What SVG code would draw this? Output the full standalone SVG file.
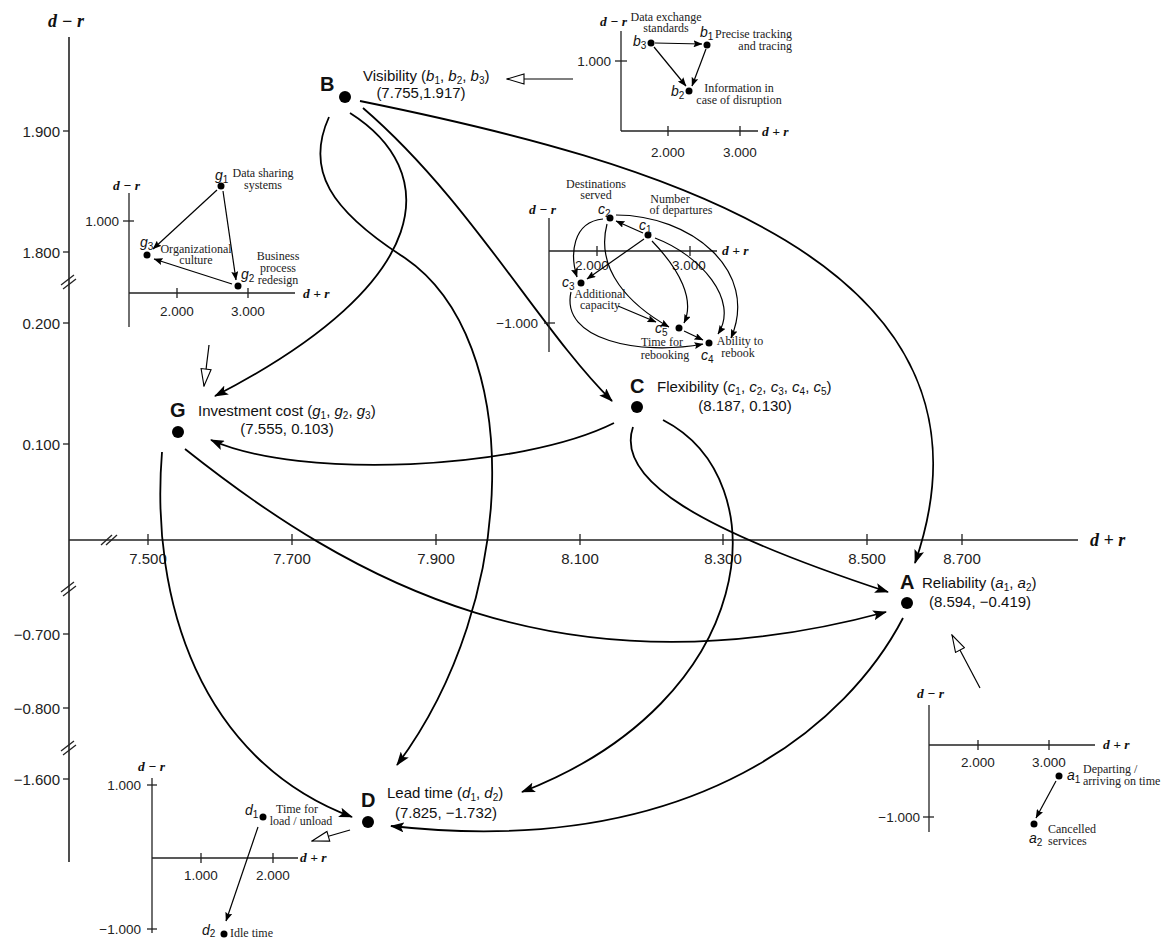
<svg xmlns="http://www.w3.org/2000/svg" width="1164" height="939" viewBox="0 0 1164 939">
<style>
.ax{stroke:#222;stroke-width:1.6;fill:none}
.axt{stroke:#222;stroke-width:1.3;fill:none}
.tk{font-family:"Liberation Sans",Arial,sans-serif;font-size:15px;fill:#222}
.tks{font-family:"Liberation Sans",Arial,sans-serif;font-size:13.5px;fill:#222}
.al{font-family:"Liberation Serif","Times New Roman",serif;font-style:italic;font-weight:bold;font-size:18px;fill:#111}
.als{font-family:"Liberation Serif","Times New Roman",serif;font-style:italic;font-weight:bold;font-size:13.5px;fill:#111}
.nl{font-family:"Liberation Sans",Arial,sans-serif;font-size:15px;fill:#111}
.nb{font-family:"Liberation Sans",Arial,sans-serif;font-size:20px;font-weight:bold;fill:#111}
.pl{font-family:"Liberation Sans",Arial,sans-serif;font-size:14px;font-style:italic;fill:#111}
.sub{font-size:10px;font-style:normal}
.sl{font-family:"Liberation Serif","Times New Roman",serif;font-size:12px;fill:#222}
.c{stroke:#000;stroke-width:1.8;fill:none;marker-end:url(#ah)}
.ci{stroke:#000;stroke-width:1.2;fill:none;marker-end:url(#as)}
.co{stroke:#000;stroke-width:1.2;fill:none;marker-end:url(#ao)}
.brk{stroke:#222;stroke-width:1.3}
</style>
<defs>
<marker id="ah" markerWidth="14" markerHeight="10" refX="13" refY="5" orient="auto" markerUnits="userSpaceOnUse"><path d="M0,0 L14,5 L0,10 L3,5 z" fill="#000"/></marker>
<marker id="as" markerWidth="9" markerHeight="7" refX="8.5" refY="3.5" orient="auto" markerUnits="userSpaceOnUse"><path d="M0,0 L9,3.5 L0,7 L1.5,3.5 z" fill="#000"/></marker>
<marker id="ao" markerWidth="19" markerHeight="12" refX="18" refY="6" orient="auto" markerUnits="userSpaceOnUse"><path d="M1,1 L18,6 L1,11 z" fill="#fff" stroke="#000" stroke-width="1.1"/></marker>
</defs>

<g id="main-axes">
<line class="ax" x1="69" y1="37" x2="69" y2="862"/>
<line class="ax" x1="69" y1="540" x2="1078" y2="540"/>
<text class="al" x="48" y="27">d − r</text>
<text class="al" x="1090" y="546">d + r</text>
<g class="axt">
<line x1="63" y1="131" x2="69" y2="131"/><line x1="63" y1="252" x2="69" y2="252"/><line x1="63" y1="323" x2="69" y2="323"/><line x1="63" y1="444" x2="69" y2="444"/><line x1="63" y1="634" x2="69" y2="634"/><line x1="63" y1="708" x2="69" y2="708"/><line x1="63" y1="779" x2="69" y2="779"/>
<line x1="148" y1="534" x2="148" y2="545"/><line x1="292" y1="534" x2="292" y2="545"/><line x1="436" y1="534" x2="436" y2="545"/><line x1="580" y1="534" x2="580" y2="545"/><line x1="723" y1="534" x2="723" y2="545"/><line x1="867" y1="534" x2="867" y2="545"/><line x1="962" y1="534" x2="962" y2="545"/>
</g>
<g class="brk">
<line x1="61" y1="285" x2="74" y2="275"/><line x1="63" y1="289" x2="76" y2="279"/>
<line x1="61" y1="592" x2="74" y2="582"/><line x1="63" y1="596" x2="76" y2="586"/>
<line x1="61" y1="751" x2="74" y2="741"/><line x1="63" y1="755" x2="76" y2="745"/>
<line x1="101" y1="545" x2="112" y2="535"/><line x1="106" y1="545" x2="117" y2="535"/>
</g>
<g class="tk" text-anchor="end">
<text x="60" y="137">1.900</text><text x="60" y="258">1.800</text><text x="60" y="329">0.200</text><text x="60" y="450">0.100</text><text x="60" y="640">−0.700</text><text x="60" y="714">−0.800</text><text x="60" y="785">−1.600</text>
</g>
<g class="tk" text-anchor="middle">
<text x="148" y="564">7.500</text><text x="292" y="564">7.700</text><text x="436" y="564">7.900</text><text x="580" y="564">8.100</text><text x="723" y="564">8.300</text><text x="867" y="564">8.500</text><text x="962" y="564">8.700</text>
</g>
</g>

<g id="connectors">
<path class="c" d="M360,101 C650,160 1020,260 915,563"/>
<path class="c" d="M363,108 C470,200 540,330 612,401"/>
<path class="c" d="M329,117 C305,170 330,210 405,258 C525,340 520,600 397,765"/>
<path class="c" d="M350,113 C440,170 440,280 215,396"/>
<path class="c" d="M614,423 C520,470 300,480 211,440"/>
<path class="c" d="M633,427 C615,480 700,530 888,592"/>
<path class="c" d="M663,420 C780,480 760,700 522,792"/>
<path class="c" d="M185,449 C350,580 560,700 886,612"/>
<path class="c" d="M162,452 C150,600 200,760 352,817"/>
<path class="c" d="M903,618 C850,720 700,860 391,826"/>
<path class="co" d="M573,79 L507,79"/>
<path class="co" d="M209,345 L204,386"/>
<path class="co" d="M980,688 L952,635"/>
<path class="co" d="M350,830 L312,841"/>
</g>

<g id="node-B">
<circle cx="345" cy="97" r="6" fill="#000"/>
<text class="nb" x="320" y="91">B</text>
<text class="nl" x="363" y="81">Visibility (<tspan font-style="italic">b</tspan><tspan font-size="10" dy="3">1</tspan><tspan dy="-3">, </tspan><tspan font-style="italic">b</tspan><tspan font-size="10" dy="3">2</tspan><tspan dy="-3">, </tspan><tspan font-style="italic">b</tspan><tspan font-size="10" dy="3">3</tspan><tspan dy="-3">)</tspan></text>
<text class="nl" x="421" y="98" text-anchor="middle">(7.755,1.917)</text>
</g>

<g id="node-G">
<circle cx="178" cy="432" r="6" fill="#000"/>
<text class="nb" x="170" y="417">G</text>
<text class="nl" x="198" y="416">Investment cost (<tspan font-style="italic">g</tspan><tspan font-size="10" dy="3">1</tspan><tspan dy="-3">, </tspan><tspan font-style="italic">g</tspan><tspan font-size="10" dy="3">2</tspan><tspan dy="-3">, </tspan><tspan font-style="italic">g</tspan><tspan font-size="10" dy="3">3</tspan><tspan dy="-3">)</tspan></text>
<text class="nl" x="287" y="434" text-anchor="middle">(7.555, 0.103)</text>
</g>

<g id="node-C">
<circle cx="637" cy="407" r="6" fill="#000"/>
<text class="nb" x="630" y="393">C</text>
<text class="nl" x="657" y="392">Flexibility (<tspan font-style="italic">c</tspan><tspan font-size="10" dy="3">1</tspan><tspan dy="-3">, </tspan><tspan font-style="italic">c</tspan><tspan font-size="10" dy="3">2</tspan><tspan dy="-3">, </tspan><tspan font-style="italic">c</tspan><tspan font-size="10" dy="3">3</tspan><tspan dy="-3">, </tspan><tspan font-style="italic">c</tspan><tspan font-size="10" dy="3">4</tspan><tspan dy="-3">, </tspan><tspan font-style="italic">c</tspan><tspan font-size="10" dy="3">5</tspan><tspan dy="-3">)</tspan></text>
<text class="nl" x="745" y="411" text-anchor="middle">(8.187, 0.130)</text>
</g>

<g id="node-A">
<circle cx="907" cy="603" r="6" fill="#000"/>
<text class="nb" x="900" y="589">A</text>
<text class="nl" x="922" y="588">Reliability (<tspan font-style="italic">a</tspan><tspan font-size="10" dy="3">1</tspan><tspan dy="-3">, </tspan><tspan font-style="italic">a</tspan><tspan font-size="10" dy="3">2</tspan><tspan dy="-3">)</tspan></text>
<text class="nl" x="980" y="607" text-anchor="middle">(8.594, −0.419)</text>
</g>

<g id="node-D">
<circle cx="368" cy="822" r="6" fill="#000"/>
<text class="nb" x="361" y="807">D</text>
<text class="nl" x="387" y="798">Lead time (<tspan font-style="italic">d</tspan><tspan font-size="10" dy="3">1</tspan><tspan dy="-3">, </tspan><tspan font-style="italic">d</tspan><tspan font-size="10" dy="3">2</tspan><tspan dy="-3">)</tspan></text>
<text class="nl" x="446" y="818" text-anchor="middle">(7.825, −1.732)</text>
</g>

<g id="inset-B">
<line class="axt" x1="621" y1="31" x2="621" y2="131"/>
<line class="axt" x1="621" y1="131" x2="758" y2="131"/>
<line class="axt" x1="615" y1="61" x2="627" y2="61"/>
<line class="axt" x1="668" y1="126" x2="668" y2="136"/>
<line class="axt" x1="740" y1="126" x2="740" y2="136"/>
<text class="als" x="600" y="26">d − r</text>
<text class="als" x="762" y="136">d + r</text>
<text class="tks" x="611" y="66" text-anchor="end">1.000</text>
<text class="tks" x="668" y="157" text-anchor="middle">2.000</text>
<text class="tks" x="740" y="157" text-anchor="middle">3.000</text>
<circle cx="651" cy="43" r="3.5"/><circle cx="707" cy="45" r="3.5"/><circle cx="689" cy="91" r="3.5"/>
<path class="ci" d="M655,43 L702,44"/>
<path class="ci" d="M706,49 L692,86"/>
<path class="ci" d="M654,47 L686,86"/>
<text class="pl" x="633" y="46">b<tspan class="sub" dy="3">3</tspan></text>
<text class="pl" x="700" y="37">b<tspan class="sub" dy="3">1</tspan></text>
<text class="pl" x="671" y="96">b<tspan class="sub" dy="3">2</tspan></text>
<text class="sl" x="666" y="21" text-anchor="middle" font-size="11">Data exchange</text>
<text class="sl" x="666" y="32" text-anchor="middle" font-size="11">standards</text>
<text class="sl" x="792" y="38" text-anchor="end">Precise tracking</text>
<text class="sl" x="792" y="50" text-anchor="end">and tracing</text>
<text class="sl" x="739" y="92" text-anchor="middle">Information in</text>
<text class="sl" x="739" y="104" text-anchor="middle">case of disruption</text>
</g>

<g id="inset-G">
<line class="axt" x1="129" y1="193" x2="129" y2="327"/>
<line class="axt" x1="129" y1="293" x2="295" y2="293"/>
<line class="axt" x1="123" y1="221" x2="134" y2="221"/>
<line class="axt" x1="177" y1="288" x2="177" y2="298"/>
<line class="axt" x1="248" y1="288" x2="248" y2="298"/>
<text class="als" x="113" y="190">d − r</text>
<text class="als" x="303" y="298">d + r</text>
<text class="tks" x="119" y="226" text-anchor="end">1.000</text>
<text class="tks" x="177" y="316" text-anchor="middle">2.000</text>
<text class="tks" x="248" y="316" text-anchor="middle">3.000</text>
<circle cx="221" cy="186" r="3.5"/><circle cx="147" cy="255" r="3.5"/><circle cx="238" cy="286" r="3.5"/>
<path class="ci" d="M217,190 L153,249"/>
<path class="ci" d="M223,191 L236,280"/>
<path class="ci" d="M232,284 L154,259"/>
<text class="pl" x="215" y="180">g<tspan class="sub" dy="3">1</tspan></text>
<text class="pl" x="140" y="247">g<tspan class="sub" dy="3">3</tspan></text>
<text class="pl" x="241" y="279">g<tspan class="sub" dy="3">2</tspan></text>
<text class="sl" x="263" y="177" text-anchor="middle">Data sharing</text>
<text class="sl" x="263" y="189" text-anchor="middle">systems</text>
<text class="sl" x="196" y="253" text-anchor="middle" font-size="11">Organizational</text>
<text class="sl" x="196" y="264" text-anchor="middle" font-size="11">culture</text>
<text class="sl" x="278" y="260" text-anchor="middle">Business</text>
<text class="sl" x="278" y="272" text-anchor="middle">process</text>
<text class="sl" x="278" y="284" text-anchor="middle">redesign</text>
</g>

<g id="inset-C">
<line class="axt" x1="549" y1="218" x2="549" y2="352"/>
<line class="axt" x1="549" y1="251" x2="717" y2="251"/>
<line class="axt" x1="544" y1="323" x2="555" y2="323"/>
<line class="axt" x1="597" y1="246" x2="597" y2="256"/>
<line class="axt" x1="690" y1="246" x2="690" y2="256"/>
<text class="als" x="529" y="214">d − r</text>
<text class="als" x="722" y="255">d + r</text>
<text class="tks" x="538" y="328" text-anchor="end">−1.000</text>
<text class="tks" x="592" y="270" text-anchor="middle">2.000</text>
<text class="tks" x="689" y="270" text-anchor="middle">3.000</text>
<circle cx="610" cy="218" r="3.5"/><circle cx="648" cy="235" r="3.5"/><circle cx="581" cy="283" r="3.5"/><circle cx="679" cy="328" r="3.5"/><circle cx="709" cy="343" r="3.5"/>
<path class="ci" d="M643,233 L616,221"/>
<path class="ci" d="M644,239 L587,279"/>
<path class="ci" d="M603,219 C572,222 570,255 577,277"/>
<path class="ci" d="M607,224 C595,270 630,305 669,327"/>
<path class="ci" d="M616,215 C690,215 760,270 731,338"/>
<path class="ci" d="M655,238 C700,255 740,300 718,334"/>
<path class="ci" d="M652,241 C680,270 695,300 684,323"/>
<path class="ci" d="M571,292 C560,340 640,356 703,344"/>
<path class="ci" d="M618,306 L656,322"/>
<path class="ci" d="M684,331 L703,340"/>
<text class="pl" x="598" y="214">c<tspan class="sub" dy="3">2</tspan></text>
<text class="pl" x="639" y="230">c<tspan class="sub" dy="3">1</tspan></text>
<text class="pl" x="562" y="287">c<tspan class="sub" dy="3">3</tspan></text>
<text class="pl" x="655" y="333">c<tspan class="sub" dy="3">5</tspan></text>
<text class="pl" x="701" y="360">c<tspan class="sub" dy="3">4</tspan></text>
<text class="sl" x="596" y="188" text-anchor="middle">Destinations</text>
<text class="sl" x="596" y="199" text-anchor="middle">served</text>
<text class="sl" x="670" y="203" text-anchor="middle">Number</text>
<text class="sl" x="681" y="214" text-anchor="middle">of departures</text>
<text class="sl" x="600" y="298" text-anchor="middle">Additional</text>
<text class="sl" x="600" y="309" text-anchor="middle">capacity</text>
<text class="sl" x="662" y="346" text-anchor="middle">Time for</text>
<text class="sl" x="665" y="359" text-anchor="middle">rebooking</text>
<text class="sl" x="740" y="345" text-anchor="middle">Ability to</text>
<text class="sl" x="738" y="357" text-anchor="middle">rebook</text>
</g>

<g id="inset-A">
<line class="axt" x1="929" y1="705" x2="929" y2="832"/>
<line class="axt" x1="929" y1="745" x2="1095" y2="745"/>
<line class="axt" x1="923" y1="817" x2="934" y2="817"/>
<line class="axt" x1="978" y1="740" x2="978" y2="750"/>
<line class="axt" x1="1049" y1="740" x2="1049" y2="750"/>
<text class="als" x="917" y="698">d − r</text>
<text class="als" x="1103" y="749">d + r</text>
<text class="tks" x="920" y="822" text-anchor="end">−1.000</text>
<text class="tks" x="978" y="767" text-anchor="middle">2.000</text>
<text class="tks" x="1049" y="767" text-anchor="middle">3.000</text>
<circle cx="1059" cy="776" r="3.5"/><circle cx="1034" cy="824" r="3.5"/>
<path class="ci" d="M1056,781 L1036,818"/>
<text class="pl" x="1067" y="780">a<tspan class="sub" dy="3">1</tspan></text>
<text class="pl" x="1029" y="843">a<tspan class="sub" dy="3">2</tspan></text>
<text class="sl" x="1083" y="773">Departing /</text>
<text class="sl" x="1083" y="785">arriving on time</text>
<text class="sl" x="1048" y="833">Cancelled</text>
<text class="sl" x="1048" y="845">services</text>
</g>

<g id="inset-D">
<line class="axt" x1="152" y1="778" x2="152" y2="933"/>
<line class="axt" x1="152" y1="858" x2="298" y2="858"/>
<line class="axt" x1="147" y1="785" x2="157" y2="785"/>
<line class="axt" x1="147" y1="929" x2="157" y2="929"/>
<line class="axt" x1="201" y1="853" x2="201" y2="863"/>
<line class="axt" x1="273" y1="853" x2="273" y2="863"/>
<text class="als" x="138" y="771">d − r</text>
<text class="als" x="300" y="862">d + r</text>
<text class="tks" x="141" y="790" text-anchor="end">1.000</text>
<text class="tks" x="141" y="934" text-anchor="end">−1.000</text>
<text class="tks" x="201" y="880" text-anchor="middle">1.000</text>
<text class="tks" x="273" y="880" text-anchor="middle">2.000</text>
<circle cx="263" cy="817" r="3.5"/><circle cx="224" cy="934" r="3.5"/>
<path class="ci" d="M258,827 L226,921"/>
<text class="pl" x="245" y="815">d<tspan class="sub" dy="3">1</tspan></text>
<text class="pl" x="202" y="935">d<tspan class="sub" dy="2">2</tspan></text>
<text class="sl" x="297" y="813" text-anchor="middle">Time for</text>
<text class="sl" x="301" y="825" text-anchor="middle">load / unload</text>
<text class="sl" x="230" y="937">Idle time</text>
</g>
</svg>
